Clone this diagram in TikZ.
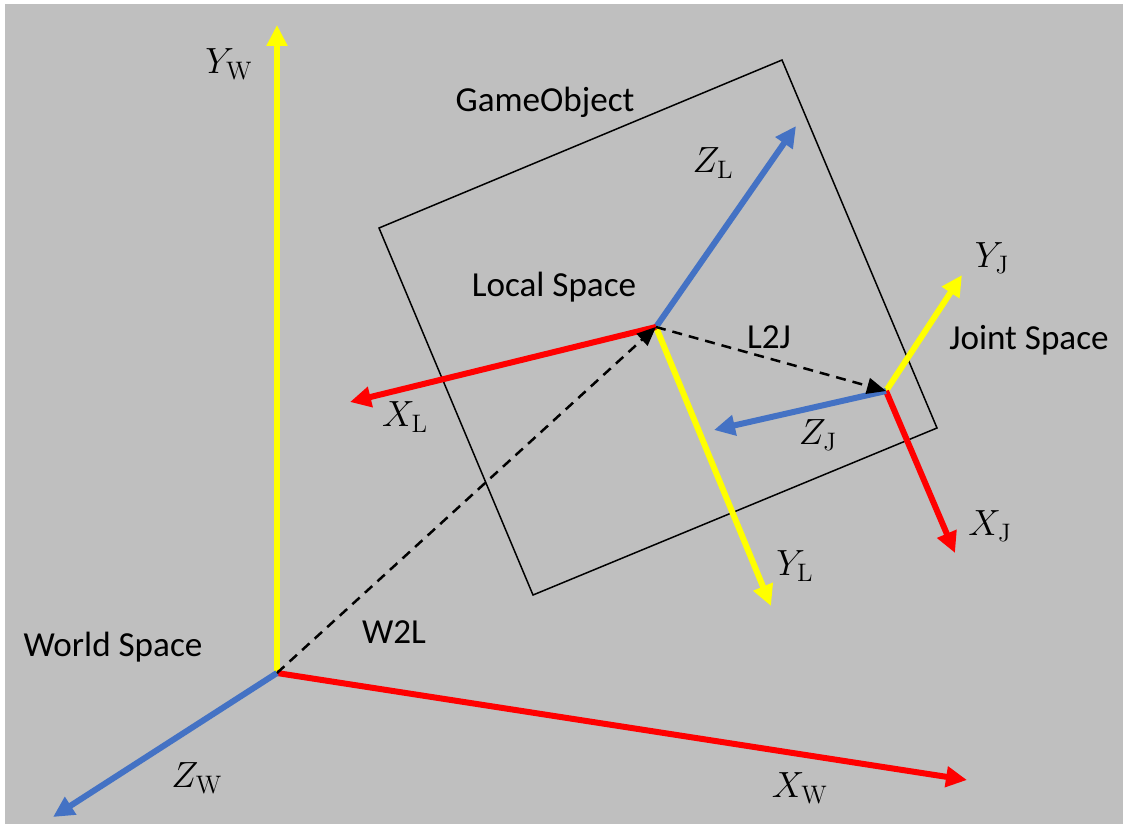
\documentclass[tikz,border=0pt]{standalone}
\usepackage[no-math]{fontspec}
\setmainfont{Carlito}
\usepackage{tikz}
\usetikzlibrary{arrows.meta}
\definecolor{bggray}{HTML}{BFBFBF}
\definecolor{axisx}{HTML}{FF0000}
\definecolor{axisy}{HTML}{FFFF00}
\definecolor{axisz}{HTML}{4472C4}
\definecolor{ink}{HTML}{000000}
\tikzset{
  axis/.style   = {line width=0.12cm, -{Triangle[length=0.42cm,width=0.4cm]}},
  xax/.style    = {axis, draw=axisx},
  yax/.style    = {axis, draw=axisy},
  zax/.style    = {axis, draw=axisz},
  xform/.style  = {line width=0.05cm, draw=ink, dash pattern=on 0.2cm off 0.14cm,
                   -{Triangle[length=0.38cm,width=0.32cm]}},
  frame/.style  = {draw=ink, line width=0.03cm},
  lbl/.style    = {inner sep=0pt, font=\fontsize{20}{24}\selectfont},
  mlbl/.style   = {inner sep=0pt, font=\fontsize{21}{25}\selectfont},
}
\begin{document}
\begin{tikzpicture}[x=0.02cm, y=-0.02cm]

  \useasboundingbox (0,0) rectangle (1123,829);
  \fill[bggray] (5,4) rectangle (1123,824);

  % Origins and axis tips
  \coordinate (ow)  at (277,673);
  \coordinate (ol)  at (656,327);
  \coordinate (oj)  at (886,391);
  \coordinate (xw)  at (967,780);
  \coordinate (yw)  at (277,25);
  \coordinate (zw)  at (53,817);
  \coordinate (xl)  at (350,402);
  \coordinate (yl)  at (771,606);
  \coordinate (zl)  at (796,126);
  \coordinate (xj)  at (955,553);
  \coordinate (yj)  at (962,275);
  \coordinate (zj)  at (714,430);

  % GameObject box
  \coordinate (g1) at (379,228);
  \coordinate (g2) at (782,60);
  \coordinate (g3) at (937,428);
  \coordinate (g4) at (533,595);
  \draw[frame] (g1) -- (g2) -- (g3) -- (g4) -- cycle;

  % World axes
  \draw[yax] (ow) -- (yw);
  \draw[xax] (ow) -- (xw);
  \draw[zax] (ow) -- (zw);

  % Local axes
  \draw[zax] (ol) -- (zl);
  \draw[yax] (ol) -- (yl);
  \draw[xax] (ol) -- (xl);

  % Joint axes
  \draw[yax] (oj) -- (yj);
  \draw[xax] (oj) -- (xj);
  \draw[zax] (oj) -- (zj);

  % Transforms
  \draw[xform] (ow) -- (ol);
  \draw[xform] (ol) -- (oj);

  % Labels
  \node[mlbl] (lyw) at (229,64)  {$Y_{\mathrm{W}}$};
  \node[mlbl] (lxw) at (800,788) {$X_{\mathrm{W}}$};
  \node[mlbl] (lzw) at (197,778) {$Z_{\mathrm{W}}$};
  \node[mlbl] (lxl) at (405,417) {$X_{\mathrm{L}}$};
  \node[mlbl] (lyl) at (795,566) {$Y_{\mathrm{L}}$};
  \node[mlbl] (lzl) at (713,163) {$Z_{\mathrm{L}}$};
  \node[mlbl] (lxj) at (990,526) {$X_{\mathrm{J}}$};
  \node[mlbl] (lyj) at (992,258) {$Y_{\mathrm{J}}$};
  \node[mlbl] (lzj) at (818,435) {$Z_{\mathrm{J}}$};

  \node[lbl] (world) at (113,647) {World Space};
  \node[lbl] (local) at (554,287) {Local Space};
  \node[lbl] (joint) at (1029,340) {Joint Space};
  \node[lbl] (game)  at (545,102) {GameObject};
  \node[lbl] (w2l)   at (394,632) {W2L};
  \node[lbl] (l2j)   at (769,337) {L2J};

\end{tikzpicture}
\end{document}
